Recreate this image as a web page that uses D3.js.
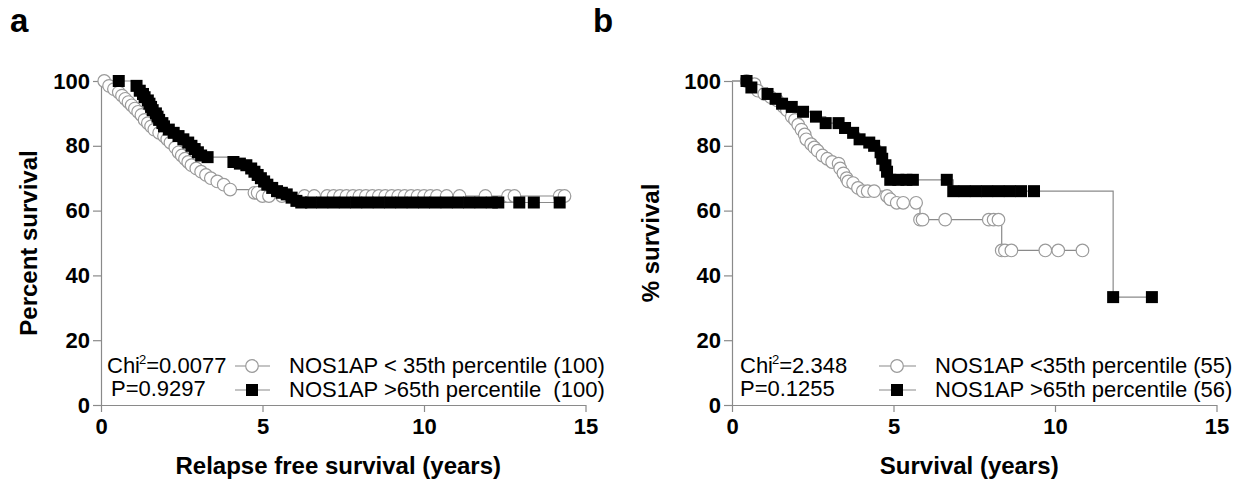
<!DOCTYPE html>
<html>
<head>
<meta charset="utf-8">
<script src="https://cdn.jsdelivr.net/npm/d3@7"></script>
<style>
  body { margin: 0; background: #fff; }
  text { font-family: "Liberation Sans", Arial, Helvetica, sans-serif; }
</style>
</head>
<body>
<div id="chart"></div>
<script>
var xTicks = [0, 5, 10, 15];
var yTicks = [0, 20, 40, 60, 80, 100];

// panel a: relapse free survival, [years, % survival]
var aLowData = [[0.1,100],[0.25,98.5],[0.4,97.5],[0.55,96.5],[0.65,95.5],[0.75,94.5],[0.85,93.5],[0.95,92.5],
  [1.05,91.5],[1.15,90.5],[1.25,89.5],[1.35,88],[1.45,87],[1.55,86],[1.65,85],[1.8,84],[1.95,83],[2.05,82],
  [2.15,81],[2.3,79.5],[2.4,78],[2.5,77],[2.6,76],[2.7,75],[2.8,74],[2.95,73],[3.1,72],[3.25,71],[3.4,70],
  [3.6,69],[3.8,68],[4.0,66.5],[4.75,65.5],[4.85,65.5],[5.0,64.5],[5.2,64.5],[5.6,64.5],[6.3,64.5],[6.6,64.5],
  [7.0,64.5],[7.2,64.5],[7.4,64.5],[7.6,64.5],[7.8,64.5],[8.0,64.5],[8.2,64.5],[8.4,64.5],[8.6,64.5],[8.8,64.5],
  [9.0,64.5],[9.2,64.5],[9.4,64.5],[9.6,64.5],[9.8,64.5],[10.0,64.5],[10.2,64.5],[10.4,64.5],[10.7,64.5],
  [11.1,64.5],[11.9,64.5],[12.6,64.5],[12.8,64.5],[14.2,64.5],[14.35,64.5]];
var aHighData = [[0.55,100],[1.1,98.5],[1.2,97],[1.3,96],[1.35,95],[1.45,94],[1.5,93],[1.55,92],[1.6,91],
  [1.7,90],[1.75,89],[1.8,88],[1.9,87],[1.95,86],[2.1,85],[2.25,84],[2.4,83],[2.55,82],[2.7,81],[2.8,80],
  [2.9,79],[3.0,78],[3.1,77],[3.3,76.5],[4.1,75],[4.3,74.5],[4.5,74],[4.65,73],[4.75,72],[4.85,71],[4.95,70],
  [5.05,69],[5.15,68],[5.3,67],[5.45,66],[5.6,65.5],[5.75,65],[5.9,64],[6.05,63],[6.2,62.5],[6.5,62.5],
  [6.85,62.5],[7.2,62.5],[7.55,62.5],[7.9,62.5],[8.25,62.5],[8.6,62.5],[8.95,62.5],[9.3,62.5],[9.65,62.5],
  [10.0,62.5],[10.35,62.5],[10.7,62.5],[11.05,62.5],[11.4,62.5],[11.75,62.5],[12.1,62.5],[12.3,62.5],
  [12.95,62.5],[13.4,62.5],[14.2,62.5]];

// panel b: overall survival
var bLowData = [[0.45,100],[0.7,99],[0.8,97],[1.0,96],[1.2,95],[1.4,94],[1.6,92],[1.7,91],[1.85,89],
  [1.95,88],[2.05,86.5],[2.15,85],[2.25,83.5],[2.3,82],[2.45,80.5],[2.55,79.5],[2.65,78.5],[2.8,77],[2.95,76],
  [3.1,75],[3.3,74.5],[3.35,73],[3.45,71.5],[3.55,70],[3.6,69],[3.75,68.5],[3.9,67],[4.05,66],[4.2,66],
  [4.4,66],[4.8,64.5],[4.9,63.5],[5.1,62.4],[5.3,62.4],[5.7,62.4],[5.82,57.2],[5.9,57.2],[6.6,57.2],
  [7.95,57.2],[8.1,57.2],[8.25,57.2],[8.35,47.7],[8.45,47.7],[8.65,47.7],[9.7,47.7],[10.1,47.7],[10.85,47.7]];
var bHighData = [[0.45,100],[0.6,98],[1.1,96],[1.35,94.5],[1.55,93],[1.85,92],[2.2,90.5],[2.6,89],[2.9,87],
  [3.3,87],[3.5,85.5],[3.75,84],[3.95,82],[4.25,81],[4.4,80],[4.6,78],[4.65,76],[4.75,74],[4.8,72],[4.9,69.5],
  [5.15,69.5],[5.4,69.5],[5.6,69.5],[6.65,69.5],[6.85,66],[7.2,66],[7.55,66],[7.9,66],[8.25,66],[8.6,66],
  [8.95,66],[9.35,66],[11.8,33.3],[13.0,33.3]];

var panelLetters = ['a', 'b'];
var yTitles = ['Percent survival', '% survival'];
var xTitles = ['Relapse free survival (years)', 'Survival (years)'];
var chiValues = ['0.0077', '2.348'];
var pValues = ['0.9297', '0.1255'];
var lowLabels = ['NOS1AP < 35th percentile (100)', 'NOS1AP <35th percentile (55)'];
var highLabels = ['NOS1AP >65th percentile  (100)', 'NOS1AP >65th percentile (56)'];

var W = 1248, H = 485;
var svg = d3.select('#chart').append('svg').attr('width', W).attr('height', H);

var panels = [
  {left: 101, low: aLowData, high: aHighData, letterX: 10, yTitleX: 37,
   statX: 107, pX: 111, symX: 252, lineX: [235, 270], labelX: 289},
  {left: 732, low: bLowData, high: bHighData, letterX: 593, yTitleX: 659,
   statX: 740, pX: 740, symX: 897, lineX: [879, 916], labelX: 935}
];

panels.forEach(function(p, i) {
  var x = d3.scaleLinear().domain([0, 15]).range([p.left, p.left + 484.5]);
  var y = d3.scaleLinear().domain([0, 100]).range([405, 81]);
  var g = svg.append('g');

  // axes
  var yAxis = g.append('g').attr('transform', 'translate(' + p.left + ',0)')
    .call(d3.axisLeft(y).tickValues(yTicks).tickSize(8).tickSizeOuter(0).tickPadding(3));
  var xAxis = g.append('g').attr('transform', 'translate(0,405)')
    .call(d3.axisBottom(x).tickValues(xTicks).tickSize(7).tickSizeOuter(0).tickPadding(6));
  [xAxis, yAxis].forEach(function(a) {
    a.selectAll('path, line').attr('stroke', '#8a8a8a').attr('stroke-width', 1.2);
    a.selectAll('text').attr('fill', '#000').style('font-size', '22px').style('font-weight', 'bold')
      .style('font-family', '"Liberation Sans", Arial, sans-serif');
  });

  var line = d3.line().x(function(d) { return x(d[0]); }).y(function(d) { return y(d[1]); })
    .curve(d3.curveStepAfter);

  // step curves
  [p.low, p.high].forEach(function(data) {
    g.append('path').datum([[0, 100]].concat(data)).attr('d', line)
      .attr('fill', 'none').attr('stroke', '#8a8a8a').attr('stroke-width', 1.2);
  });

  g.selectAll('circle.low').data(p.low).enter().append('circle').attr('class', 'low')
    .attr('cx', function(d) { return x(d[0]); }).attr('cy', function(d) { return y(d[1]); })
    .attr('r', 6.3).attr('fill', '#fff').attr('stroke', '#9a9a9a').attr('stroke-width', 1.2);

  g.selectAll('rect.high').data(p.high).enter().append('rect').attr('class', 'high')
    .attr('x', function(d) { return x(d[0]) - 6; }).attr('y', function(d) { return y(d[1]) - 6; })
    .attr('width', 12).attr('height', 12).attr('fill', '#000');

  // titles
  svg.append('text').attr('x', p.letterX).attr('y', 32).text(panelLetters[i])
    .style('font-size', '33px').style('font-weight', 'bold');
  svg.append('text').attr('transform', 'translate(' + p.yTitleX + ',243) rotate(-90)')
    .attr('text-anchor', 'middle').text(yTitles[i])
    .style('font-size', '24px').style('font-weight', 'bold');
  svg.append('text').attr('x', (x.range()[0] + x.range()[1]) / 2 - 5).attr('y', 474)
    .attr('text-anchor', 'middle').text(xTitles[i])
    .style('font-size', '24px').style('font-weight', 'bold');

  // legend
  var chi = g.append('text').attr('x', p.statX).attr('y', 373).style('font-size', '22px');
  chi.append('tspan').text('Chi');
  chi.append('tspan').text('2').attr('dx', -1).attr('dy', -9).style('font-size', '13px');
  chi.append('tspan').text('=' + chiValues[i]).attr('dy', 9);
  g.append('text').attr('x', p.pX).attr('y', 396).style('font-size', '22px').text('P=' + pValues[i]);

  [366, 390].forEach(function(ly, k) {
    g.append('line').attr('x1', p.lineX[0]).attr('x2', p.lineX[1]).attr('y1', ly).attr('y2', ly)
      .attr('stroke', '#8a8a8a').attr('stroke-width', 1.2);
    if (k === 0) {
      g.append('circle').attr('cx', p.symX).attr('cy', ly).attr('r', 6.3)
        .attr('fill', '#fff').attr('stroke', '#9a9a9a').attr('stroke-width', 1.2);
    } else {
      g.append('rect').attr('x', p.symX - 6).attr('y', ly - 6).attr('width', 12).attr('height', 12)
        .attr('fill', '#000');
    }
    g.append('text').attr('x', p.labelX).attr('y', ly + 7).style('font-size', '22px')
      .style('white-space', 'pre').text(k === 0 ? lowLabels[i] : highLabels[i]);
  });
});
</script>
</body>
</html>
